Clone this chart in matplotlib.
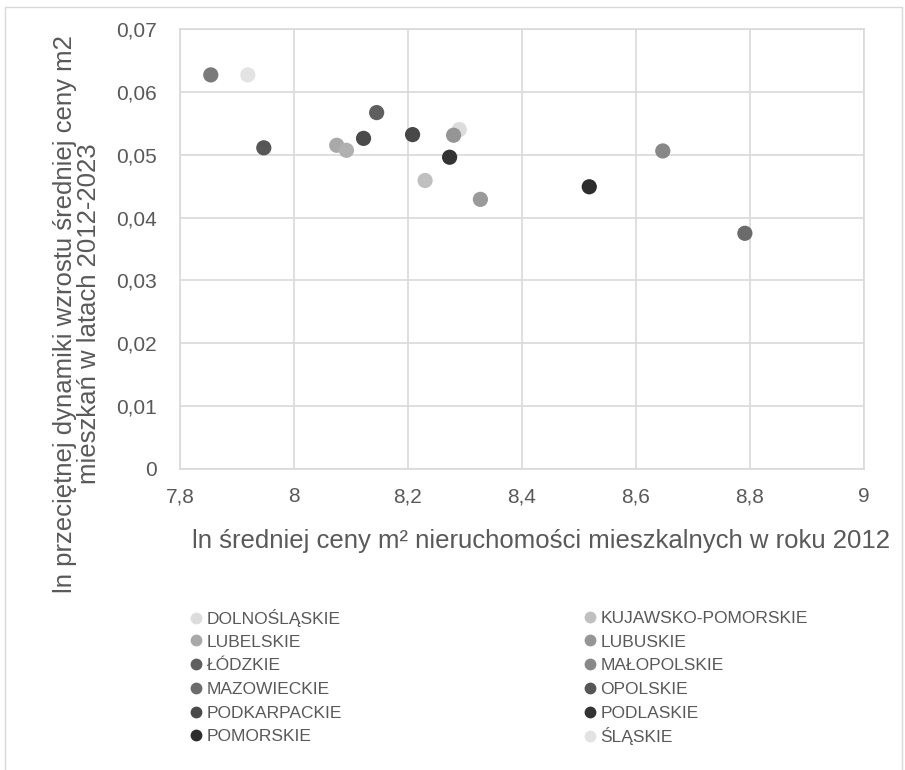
import matplotlib
matplotlib.use("Agg")
import matplotlib.pyplot as plt
from matplotlib.lines import Line2D
from matplotlib.patches import Rectangle

##################################
# DATA
##################################

regions = ["DOLNOŚLĄSKIE", "KUJAWSKO-POMORSKIE", "LUBELSKIE", "LUBUSKIE",
           "ŁÓDZKIE", "MAŁOPOLSKIE", "MAZOWIECKIE", "OPOLSKIE",
           "PODKARPACKIE", "PODLASKIE", "POMORSKIE", "ŚLĄSKIE",
           "ŚWIĘTOKRZYSKIE", "WARMIŃSKO-MAZURSKIE", "WIELKOPOLSKIE", "ZACHODNIOPOMORSKIE"]

ln_price_2012 = [8.290, 8.230, 8.075, 8.280,
                 8.145, 8.647, 8.791, 7.947,
                 8.122, 8.273, 8.518, 7.919,
                 7.854, 8.092, 8.327, 8.208]

ln_growth = [0.0540, 0.0459, 0.0515, 0.0531,
             0.0567, 0.0506, 0.0375, 0.0511,
             0.0526, 0.0496, 0.0449, 0.0627,
             0.0627, 0.0507, 0.0429, 0.0532]

colors = ["#dcdcdc", "#c0c0c0", "#a9a9a9", "#959595",
          "#5f5f5f", "#888888", "#6b6b6b", "#565656",
          "#4a4a4a", "#333333", "#2d2d2d", "#e3e3e3",
          "#7a7a7a", "#b0b0b0", "#9a9a9a", "#484848"]

n_legend = 12  # only the first 12 entries are visible in the picture

x_ticks = [7.8, 8.0, 8.2, 8.4, 8.6, 8.8, 9.0]
x_tick_labels = ["7,8", "8", "8,2", "8,4", "8,6", "8,8", "9"]
y_ticks = [0, 0.01, 0.02, 0.03, 0.04, 0.05, 0.06, 0.07]
y_tick_labels = ["0", "0,01", "0,02", "0,03", "0,04", "0,05", "0,06", "0,07"]

##########
# PLOTTING
##########

plt.rcParams['font.family'] = ['Liberation Sans', 'DejaVu Sans']
txt_col = "#595959"
grid_col = "#d9d9d9"

W, H = 905, 770
fig = plt.figure(figsize=(W / 100, H / 100), dpi=100)

# chart border
fig.patches.append(Rectangle((5 / W, -0.1), (902 - 5) / W, (H - 7) / H + 0.1,
                             transform=fig.transFigure, fill=False,
                             edgecolor=grid_col, linewidth=1.0))

ax = fig.add_axes([180 / W, (H - 469) / H, (864 - 180) / W, (469 - 29) / H])

for i in range(len(regions)):
    ax.scatter(ln_price_2012[i], ln_growth[i], s=120, color=colors[i],
               edgecolors='none', zorder=3 + i * 0.01, label=regions[i])

ax.set_xlim(7.8, 9.0)
ax.set_ylim(0, 0.07)
ax.set_xticks(x_ticks)
ax.set_xticklabels(x_tick_labels)
ax.set_yticks(y_ticks)
ax.set_yticklabels(y_tick_labels)
ax.tick_params(axis='both', length=0, labelsize=15, colors=txt_col)
ax.tick_params(axis='y', pad=17)
ax.tick_params(axis='x', pad=13)
ax.grid(True, color=grid_col, linewidth=1.2)
ax.set_axisbelow(True)
for sp in ax.spines.values():
    sp.set_color(grid_col)
    sp.set_linewidth(1.2)

fig.text(541 / W, 1 - 541 / H,
         "ln średniej ceny m² nieruchomości mieszkalnych w roku 2012",
         ha='center', va='center', fontsize=18.5, color=txt_col)
fig.text(77 / W, 1 - 314 / H,
         "ln przeciętnej dynamiki wzrostu średniej ceny m2\nmieszkań w latach 2012-2023",
         rotation=90, ha='center', va='center', fontsize=18.5, color=txt_col,
         linespacing=1.05, multialignment='center')

# legend: two columns filled row by row, one entry per row slot
row_y = [618, 642, 665, 689, 713, 736]
col_x = [190, 584]
for i in range(n_legend):
    h = Line2D([], [], linestyle='none', marker='o', markersize=8.5,
               markerfacecolor=colors[i], markeredgecolor='none')
    leg = fig.legend([h], [regions[i]], loc='center left',
                     bbox_to_anchor=(col_x[i % 2] / W, 1 - row_y[i // 2] / H),
                     frameon=False, fontsize=12.5, handlelength=0.7,
                     handletextpad=0.25, borderpad=0, borderaxespad=0)
    for t in leg.get_texts():
        t.set_color(txt_col)

fig.savefig("out.png", dpi=100)
